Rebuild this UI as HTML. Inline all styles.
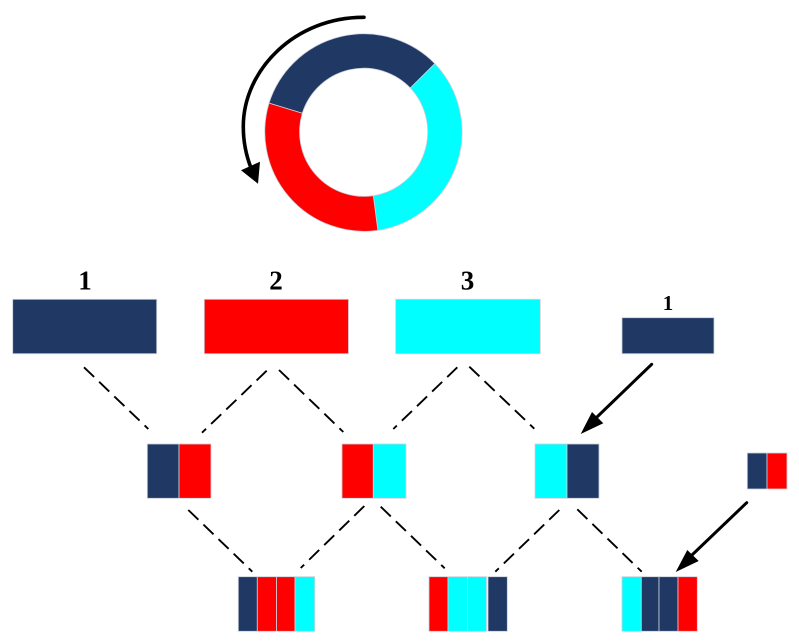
<!DOCTYPE html>
<html>
<head>
<meta charset="utf-8">
<style>
html,body{margin:0;padding:0;background:#fff;width:799px;height:644px;overflow:hidden}
svg{display:block}
text{font-family:"Liberation Serif",serif;font-weight:bold;fill:#000;text-anchor:middle}
.n{fill:#1F3864}.r{fill:#f00}.c{fill:#0ff}
rect,.seg{stroke:#cdd1dc;stroke-width:.8}
.d{stroke:#000;stroke-width:1.9;stroke-dasharray:14 7;fill:none}
</style>
</head>
<body>
<svg width="799" height="644" viewBox="0 0 799 644" xmlns="http://www.w3.org/2000/svg">
<!-- ring -->
<path class="seg n" d="M269 103.1A99.6 99.6 0 0 1 434.9 63.6L410.3 88A64.5 64.5 0 0 0 302.3 113.3Z"/>
<path class="seg c" d="M434.9 63.6A99.6 99.6 0 0 1 377.9 230.4L373.3 195.7A64.5 64.5 0 0 0 410.3 88Z"/>
<path class="seg r" d="M377.9 230.4A99.6 99.6 0 0 1 269 103.1L302.3 113.3A64.5 64.5 0 0 0 373.3 195.7Z"/>
<!-- rotation arrow -->
<path d="M364 17.3C295 17 243 70 243.3 127C243.3 140 246 155 251 168" fill="none" stroke="#000" stroke-width="3.6" stroke-linecap="round"/>
<polygon points="241,170.3 260,161.7 258,183.7" fill="#000"/>
<!-- labels -->
<text x="85" y="289.5" font-size="27">1</text>
<text x="276" y="289.5" font-size="27">2</text>
<text x="467.5" y="289.5" font-size="27">3</text>
<text x="668" y="310" font-size="21">1</text>
<!-- top row -->
<rect class="n" x="12.7" y="299.3" width="144" height="54.4"/>
<rect class="r" x="204.3" y="299.3" width="144.2" height="54.4"/>
<rect class="c" x="395.7" y="299.3" width="144.6" height="54.4"/>
<rect class="n" x="622" y="317.7" width="92" height="36"/>
<!-- middle row -->
<rect class="n" x="147.3" y="444" width="31.7" height="54.3"/>
<rect class="r" x="179" y="444" width="32" height="54.3"/>
<rect class="r" x="342" y="444" width="31.3" height="54.3"/>
<rect class="c" x="373.3" y="444" width="32.7" height="54.3"/>
<rect class="c" x="535" y="444" width="32" height="54.3"/>
<rect class="n" x="567" y="444" width="32" height="54.3"/>
<rect class="n" x="747.3" y="453" width="19.7" height="36"/>
<rect class="r" x="767" y="453" width="20" height="36"/>
<!-- bottom row -->
<rect class="n" x="238.3" y="576.7" width="19" height="54.6"/>
<rect class="r" x="257.3" y="576.7" width="19.2" height="54.6"/>
<rect class="r" x="276.5" y="576.7" width="18.5" height="54.6"/>
<rect class="c" x="295" y="576.7" width="19.7" height="54.6"/>
<rect class="r" x="429" y="576.7" width="19" height="54.6"/>
<rect class="c" x="448" y="576.7" width="19.5" height="54.6"/>
<rect class="c" x="467.5" y="576.7" width="19" height="54.6"/>
<rect class="n" x="488" y="576.7" width="19.3" height="54.6"/>
<rect class="c" x="622" y="576.7" width="19.3" height="54.6"/>
<rect class="n" x="641.3" y="576.7" width="17.7" height="54.6"/>
<rect class="n" x="659" y="576.7" width="19" height="54.6"/>
<rect class="r" x="678" y="576.7" width="19.3" height="54.6"/>
<!-- dashed connectors -->
<path class="d" d="M84 367.3L148.3 429"/>
<path class="d" d="M266.7 370.7L202 432.7"/>
<path class="d" d="M279 370L343.3 432"/>
<path class="d" d="M457.3 367.3L393.3 429"/>
<path class="d" d="M469.3 366.7L534.3 428.7"/>
<path class="d" d="M188.3 510L252.3 571.7"/>
<path class="d" d="M364.3 506L300.7 568"/>
<path class="d" d="M380.7 506.7L444.7 568.3"/>
<path class="d" d="M559.3 510L495.3 571.7"/>
<path class="d" d="M577.3 509.3L641.7 571.7"/>
<!-- solid arrows -->
<path d="M651.7 364.3L597 417" stroke="#000" stroke-width="3" stroke-linecap="round" fill="none"/>
<polygon points="580.7,434 592,412 603.3,423.3" fill="#000"/>
<path d="M746.7 502.7L692 555" stroke="#000" stroke-width="3" stroke-linecap="round" fill="none"/>
<polygon points="675.7,572 687.3,550 698.7,561" fill="#000"/>
</svg>
</body>
</html>
